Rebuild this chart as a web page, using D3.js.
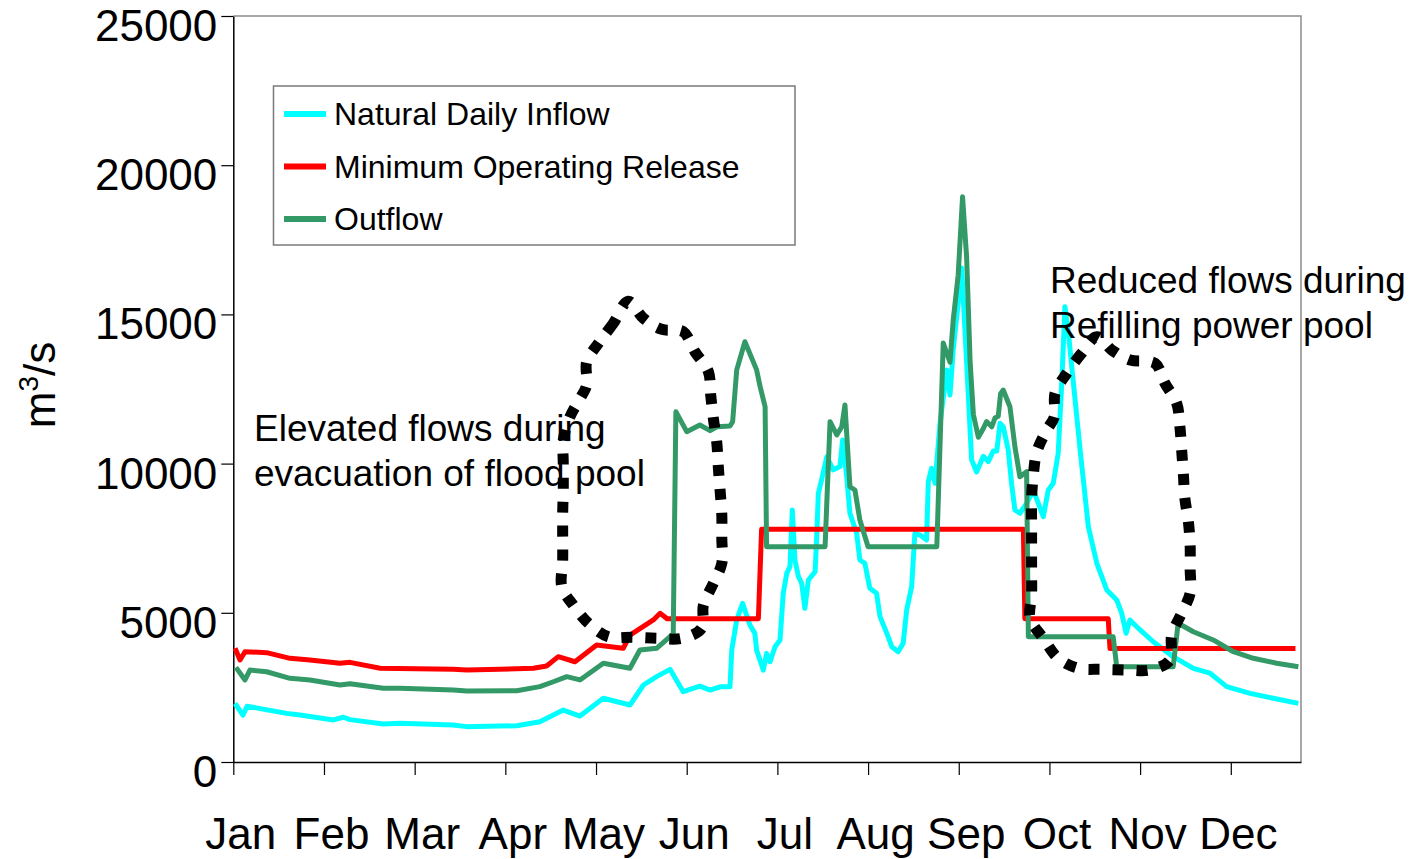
<!DOCTYPE html>
<html>
<head>
<meta charset="utf-8">
<script src="https://cdn.jsdelivr.net/npm/d3@7"></script>
<style>
  body { margin: 0; background: #fff; }
  svg { display: block; font-family: "Liberation Sans", Arial, sans-serif; }
</style>
</head>
<body>
<svg id="chart" width="1423" height="859"></svg>
<script>
// ---- data (day of year, m3/s) ----
const months = ['Jan', 'Feb', 'Mar', 'Apr', 'May', 'Jun', 'Jul', 'Aug', 'Sep', 'Oct', 'Nov', 'Dec'];
const monthTicks = [0, 31, 62, 93, 124, 155, 186, 217, 248, 279, 310, 341];
const yTicks = [0, 5000, 10000, 15000, 20000, 25000];

const seriesNames = ['Natural Daily Inflow', 'Minimum Operating Release', 'Outflow'];
const seriesColors = ['#00ffff', '#ff0000', '#339966'];

const inflow = [
  [0.6, 1960], [3.3, 1570], [4.7, 1870], [18.3, 1630], [22.8, 1575], [34.2, 1410], [37.6, 1500],
  [39.9, 1420], [51.3, 1275], [57.0, 1300], [75.1, 1240], [79.8, 1185], [96.9, 1215], [104.8, 1350],
  [112.8, 1740], [118.5, 1540], [126.5, 2135], [135.6, 1910], [140.2, 2580], [144.7, 2860],
  [149.3, 3105], [153.8, 2355], [159.5, 2540], [163.0, 2410], [166.4, 2520], [169.8, 2520],
  [170.4, 3750], [172.1, 4760], [174.1, 5320], [176.6, 4590], [178.3, 4310], [178.9, 3750],
  [181.2, 3080], [182.3, 3640], [183.5, 3360], [185.2, 3860], [186.9, 4090], [188.0, 5650],
  [189.2, 6320], [190.3, 6545], [191.1, 8445], [192.0, 6770], [193.2, 6210], [194.3, 5990],
  [195.4, 5150], [196.6, 6100], [198.9, 6380], [199.4, 7440], [200.0, 9005], [201.1, 9450],
  [202.9, 10230], [205.1, 9790], [207.4, 9900], [208.3, 10790], [209.7, 9560], [210.8, 8335],
  [213.1, 7665], [214.2, 6770], [215.9, 6660], [217.6, 5820], [219.9, 5655], [221.1, 4870],
  [223.4, 4315], [225.1, 3865], [227.3, 3695], [229.0, 3980], [230.2, 5095], [231.9, 5875],
  [233.0, 7665], [234.8, 7605], [237.0, 7440], [237.6, 9395], [238.7, 9845], [239.9, 9340],
  [241.6, 11350], [243.9, 13140], [245.0, 12300], [246.1, 13805], [247.8, 15380], [249.0, 16555],
  [250.7, 13395], [252.4, 10125], [254.1, 9720], [256.4, 10245], [258.1, 10065], [259.8, 10420],
  [261.0, 10420], [262.1, 11355], [263.2, 11240], [264.9, 10475], [266.1, 9300], [267.2, 8445],
  [268.9, 8335], [271.2, 8670], [273.5, 9115], [275.2, 8670], [276.9, 8220], [278.6, 9115],
  [280.3, 9340], [282.0, 10345], [283.2, 12690], [284.3, 15260], [285.5, 14370], [287.2, 12690],
  [289.5, 10455], [292.3, 7885], [295.2, 6660], [298.6, 5765], [302.0, 5430], [303.7, 4985],
  [305.2, 4315], [306.5, 4760], [310.0, 4425], [314.5, 4030], [321.3, 3530], [328.2, 3140],
  [333.9, 2975], [339.6, 2525], [347.6, 2300], [355.5, 2135], [364.1, 1965]
];

const minRelease = [
  [0.6, 3810], [2.3, 3420], [4.0, 3695], [11.4, 3665], [19.4, 3475], [26.2, 3420], [36.5, 3310],
  [39.9, 3340], [50.2, 3140], [75.2, 3105], [79.8, 3085], [102.6, 3140], [107.1, 3215],
  [111.1, 3530], [116.8, 3360], [124.2, 3920], [133.3, 3810], [135.6, 4255], [143.6, 4760],
  [145.9, 4985], [148.3, 4800], [179.5, 4800], [180.6, 7800], [270.1, 7800], [270.6, 4800],
  [299.1, 4800], [299.7, 3800], [363.1, 3800]
];

const outflow = [
  [0.9, 3170], [4.0, 2750], [5.7, 3080], [11.4, 3025], [19.4, 2805], [26.2, 2750], [36.5, 2580],
  [39.9, 2620], [51.3, 2470], [57.0, 2470], [75.2, 2415], [79.8, 2380], [96.9, 2390], [104.8, 2525],
  [109.4, 2690], [114.0, 2860], [118.5, 2750], [126.5, 3310], [135.6, 3140], [139.0, 3755],
  [144.7, 3810], [149.3, 4200], [150.4, 4315], [151.3, 11740], [155.0, 11070], [159.5, 11295],
  [163.0, 11105], [165.3, 11235], [169.8, 11260], [170.7, 11405], [172.1, 13140], [174.9, 14085],
  [178.9, 13140], [180.1, 12580], [181.8, 11905], [182.3, 7215], [202.3, 7215], [204.0, 11405],
  [206.3, 10960], [208.0, 11235], [209.1, 11965], [210.8, 9225], [212.5, 9115], [214.2, 8110],
  [217.0, 7215], [240.5, 7215], [242.7, 14040], [245.0, 13395], [246.1, 14800], [247.8, 16315],
  [249.3, 18940], [250.7, 16900], [251.9, 13395], [253.0, 11645], [254.7, 10885], [256.4, 11175],
  [257.5, 11410], [259.3, 11235], [260.4, 11530], [261.5, 11585], [262.3, 12345], [263.2, 12465],
  [265.5, 11905], [267.2, 10565], [268.9, 9560], [271.2, 9730], [271.8, 4200], [300.8, 4200],
  [302.0, 3195], [321.3, 3195], [323.0, 4650], [328.2, 4365], [335.0, 4090], [341.9, 3695],
  [348.7, 3475], [356.7, 3310], [364.1, 3195]
];

// hand drawn dotted loops, outline in (day, m3/s)
const floodPoolLoop = [
  [135.0, 15440], [129.9, 14700], [124.8, 14030], [120.8, 13410], [120.8, 12630], [118.6, 12190],
  [115.1, 11570], [112.8, 10790], [112.8, 10010], [112.8, 9115], [112.6, 8335], [112.6, 7550],
  [112.6, 6715], [112.3, 5875], [116.2, 5260], [121.4, 4650], [128.2, 4200], [136.7, 4180],
  [144.7, 4145], [153.3, 4145], [160.1, 4480], [160.7, 5260], [164.1, 5985], [167.0, 6660],
  [167.0, 7495], [167.0, 8275], [166.4, 9115], [165.8, 9895], [165.3, 10680], [164.1, 11520],
  [163.2, 12300], [162.4, 13080], [157.8, 13750], [153.8, 14420], [146.5, 14500], [140.2, 14870]
];
const refillLoop = [
  [295.2, 14255], [290.0, 13695], [284.9, 13025], [280.9, 12355], [280.7, 11570], [278.1, 11125],
  [274.7, 10400], [273.5, 9620], [272.9, 8835], [272.9, 8000], [272.9, 7215], [272.9, 6435],
  [272.9, 5600], [272.4, 4815], [276.9, 4145], [282.0, 3475], [288.9, 3140], [296.9, 3105],
  [305.4, 3085], [313.4, 3085], [320.2, 3420], [320.8, 4255], [324.2, 4985], [327.1, 5655],
  [327.1, 6490], [327.1, 7270], [326.5, 8055], [325.3, 8835], [324.8, 9620], [324.2, 10455],
  [323.6, 11235], [322.5, 12020], [318.5, 12690], [315.1, 13360], [306.6, 13470], [300.3, 13810]
];

const notes = [
  {lines: ['Elevated flows during', 'evacuation of flood pool'], x: 254, y: 441},
  {lines: ['Reduced flows during', 'Refilling power pool'], x: 1050, y: 293}
];

// ---- layout ----
const plot = {left: 233.3, right: 1301, top: 16, bottom: 762};
const svg = d3.select('#chart');

const x = d3.scaleLinear().domain([0, 365]).range([plot.left, plot.right]);
const y = d3.scaleLinear().domain([0, 25000]).range([plot.bottom, plot.top]);

// frame (top and right in grey)
svg.append('path')
  .attr('d', `M${plot.left},${plot.top}H${plot.right}V${plot.bottom}`)
  .attr('fill', 'none')
  .attr('stroke', '#8c8c8c')
  .attr('stroke-width', 1.5);

// y axis
const yAxis = svg.append('g')
  .attr('transform', `translate(${plot.left},0)`)
  .call(d3.axisLeft(y).tickValues(yTicks).tickSize(12).tickSizeOuter(0).tickPadding(4)
    .tickFormat(d3.format('d')));
yAxis.select('.domain').attr('stroke', '#000').attr('stroke-width', 1.5);
yAxis.selectAll('.tick line').attr('stroke', '#000').attr('stroke-width', 1.2);
yAxis.selectAll('.tick text')
  .attr('font-size', 44)
  .attr('font-family', '"Liberation Sans", Arial, sans-serif')
  .attr('fill', '#000')
  .attr('dy', 24.5);

// x axis
const xAxis = svg.append('g')
  .attr('transform', `translate(0,${plot.bottom})`)
  .call(d3.axisBottom(x).tickValues(monthTicks).tickSize(13).tickSizeOuter(0).tickPadding(43)
    .tickFormat((d, i) => months[i]));
xAxis.select('.domain').attr('stroke', '#000').attr('stroke-width', 1.5);
xAxis.selectAll('.tick line').attr('stroke', '#000').attr('stroke-width', 1.2);
xAxis.selectAll('.tick text')
  .attr('font-size', 44)
  .attr('font-family', '"Liberation Sans", Arial, sans-serif')
  .attr('fill', '#000')
  .attr('x', 7);

// y axis title
svg.append('text')
  .attr('transform', 'translate(55,385) rotate(-90)')
  .attr('text-anchor', 'middle')
  .attr('font-size', 44)
  .call(t => {
    t.append('tspan').text('m');
    t.append('tspan').text('3').attr('font-size', 28).attr('dy', -17);
    t.append('tspan').text('/s').attr('dy', 17);
  });

// series
const line = d3.line().x(d => x(d[0])).y(d => y(d[1]));
[inflow, minRelease, outflow].forEach((s, i) => {
  svg.append('path')
    .datum(s)
    .attr('d', line)
    .attr('fill', 'none')
    .attr('stroke', seriesColors[i])
    .attr('stroke-width', 5)
    .attr('stroke-linejoin', 'round');
});

// dotted loops
const loop = d3.line().x(d => x(d[0])).y(d => y(d[1])).curve(d3.curveCatmullRomClosed.alpha(0.5));
[floodPoolLoop, refillLoop].forEach(pts => {
  svg.append('path')
    .datum(pts)
    .attr('d', loop)
    .attr('fill', 'none')
    .attr('stroke', '#000')
    .attr('stroke-width', 11)
    .attr('stroke-dasharray', '11 13');
});

// annotations
notes.forEach(n => {
  n.lines.forEach((l, i) => {
    svg.append('text')
      .attr('x', n.x)
      .attr('y', n.y + i * 44.5)
      .attr('font-size', 37)
      .attr('fill', '#000')
      .text(l);
  });
});

// legend
const legend = svg.append('g');
legend.append('rect')
  .attr('x', 273.5).attr('y', 86)
  .attr('width', 521.5).attr('height', 159)
  .attr('fill', '#fff')
  .attr('stroke', '#7a7a7a')
  .attr('stroke-width', 1.5);
seriesNames.forEach((name, i) => {
  const cy = 114 + i * 52.5;
  legend.append('line')
    .attr('x1', 284).attr('x2', 326)
    .attr('y1', cy).attr('y2', cy)
    .attr('stroke', seriesColors[i])
    .attr('stroke-width', 6);
  legend.append('text')
    .attr('x', 334).attr('y', cy)
    .attr('dy', '0.35em')
    .attr('font-size', 32)
    .attr('fill', '#000')
    .text(name);
});
</script>
</body>
</html>
